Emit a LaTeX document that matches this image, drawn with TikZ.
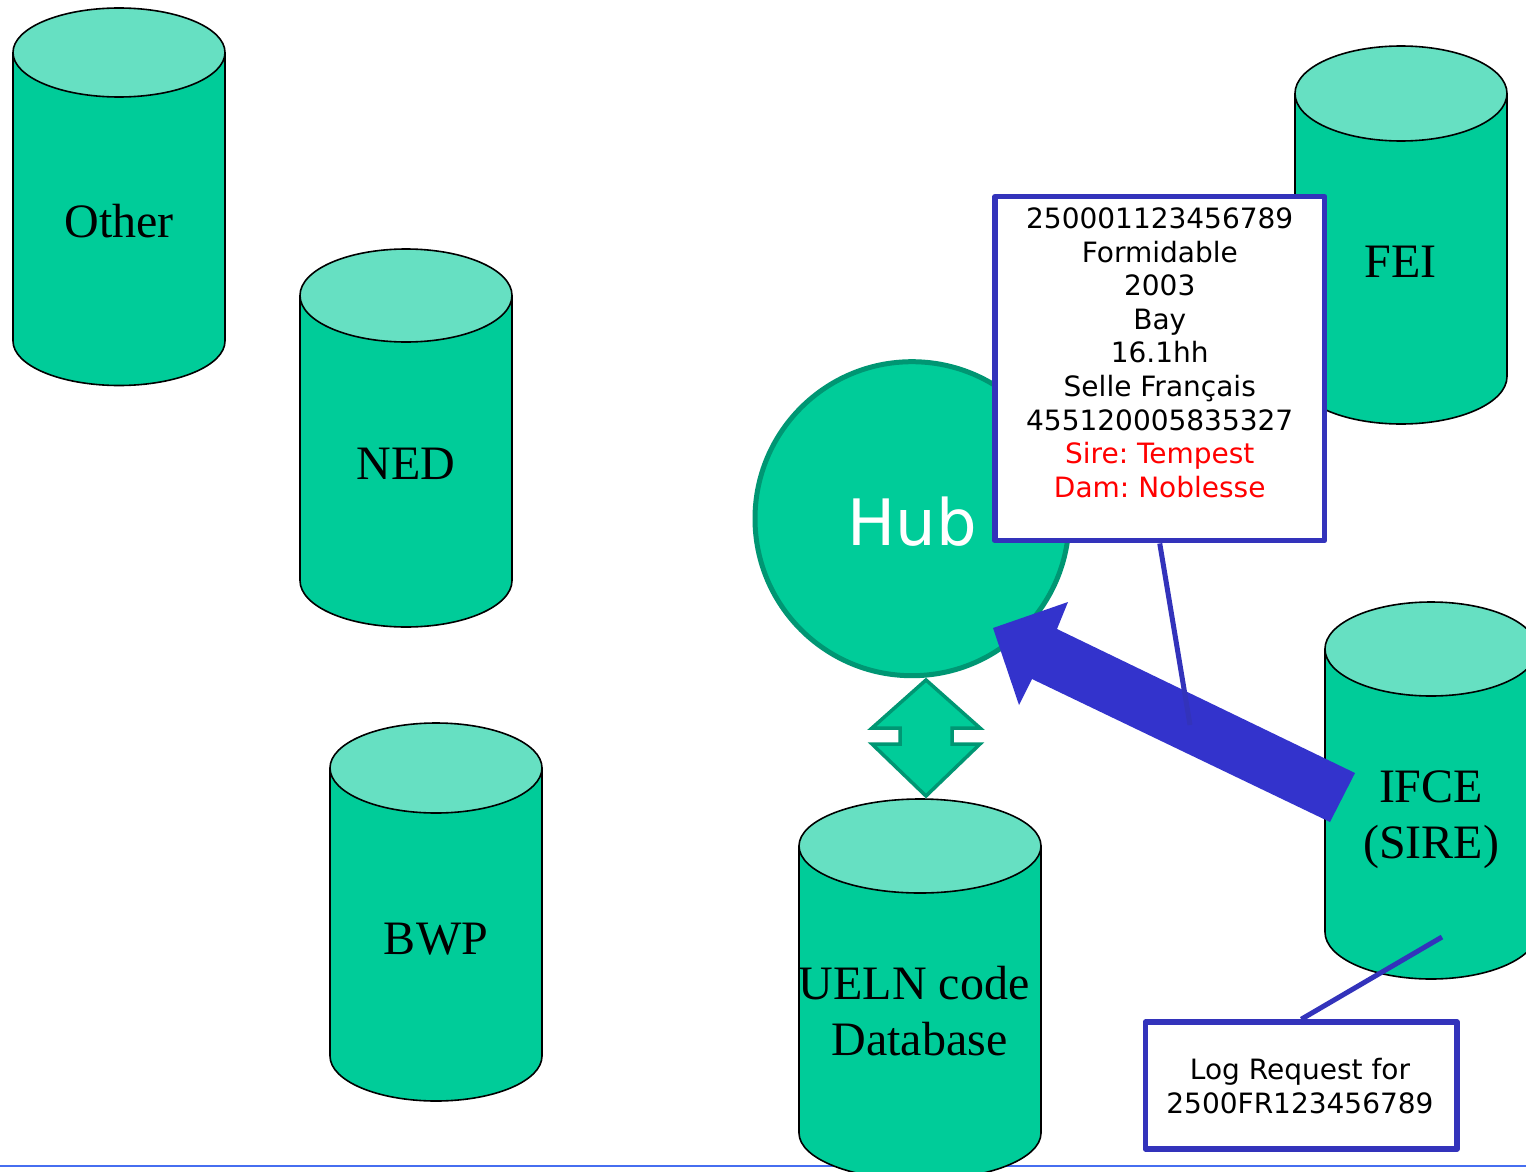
\documentclass[tikz,border=0pt]{standalone}
\usepackage{fontspec}
\setmainfont{Liberation Serif}
\newfontfamily\verd{DejaVu Sans}
\frenchspacing
\definecolor{cylbody}{RGB}{0,204,153}
\definecolor{cyltop}{RGB}{102,224,194}
\definecolor{hubedge}{RGB}{0,150,115}
\definecolor{arrowblue}{RGB}{51,51,204}
\definecolor{boxblue}{RGB}{51,51,187}
\definecolor{rulerblue}{RGB}{70,110,240}
\tikzset{
  cylbodystyle/.style={fill=cylbody, draw=black, line width=1.6pt, line join=round},
  cyltopstyle/.style={fill=cyltop, draw=black, line width=1.6pt},
  cyllabel/.style={font=\fontsize{48}{56}\selectfont, align=center, inner sep=0pt, text=black},
  infobox/.style={draw=boxblue, fill=white, line width=5.5pt, line join=round, inner sep=0pt},
  infotext/.style={font=\verd\fontsize{28}{33.6}\selectfont, align=center, inner sep=0pt, anchor=north},
  pointer/.style={draw=boxblue, line width=5pt},
}
\newcommand{\dbcyl}[8]{%
  \path[cylbodystyle] ({#2-#5},{-#3}) -- ({#2-#5},{-#4}) arc[start angle=180,end angle=360,x radius=#5,y radius=#6] -- ({#2+#5},{-#3}) -- cycle;
  \path[cyltopstyle] (#2,-#3) ellipse[x radius=#5,y radius=#6];
  \node[cyllabel] (#1) at (#7) {#8};
}
\begin{document}
\begin{tikzpicture}[x=1pt,y=1pt]
\useasboundingbox[fill=white] (0,0) rectangle (1526,-1172);
% bottom rule
\coordinate (ruleL) at (0,-1166);
\coordinate (ruleR) at (1526,-1166);
\draw[rulerblue, line width=2.4pt] (ruleL) -- (ruleR);
% cylinders
\dbcyl{other}{119}{52.5}{341}{106}{44.5}{119,-220.6}{Other}
\dbcyl{ned}{406}{295.5}{580.5}{106}{46.5}{406,-464}{NED}
\dbcyl{bwp}{436}{768}{1056}{106}{45}{436,-939}{BWP}
\dbcyl{ueln}{920}{846}{1133}{121}{47}{919.5,-1011}{UELN code\kern11pt\\Database}
\dbcyl{fei}{1401}{93.5}{376.5}{106}{47.5}{1400.5,-262}{FEI}
\dbcyl{ifce}{1431}{649}{932}{106}{47}{1431,-820}{IFCE\\(SIRE)}
% hub
\node[circle, fill=cylbody, draw=hubedge, line width=5pt, minimum size=314pt, inner sep=0pt] (hub) at (912,-518.7) {};
\node[font=\verd\fontsize{64}{70}\selectfont, text=white, inner sep=0pt, anchor=base] (hubtext) at (912,-545) {Hub};
% double arrow hub <-> ueln
\path[fill=cylbody, draw=hubedge, line width=3.5pt, line join=miter]
  (926,-680) -- (980,-728) -- (952,-728) -- (952,-744) -- (980,-744) -- (926,-796)
  -- (872,-744) -- (900,-744) -- (900,-728) -- (872,-728) -- cycle;
% big arrow IFCE -> hub
\coordinate (tailA) at (1355,-773);
\coordinate (tailB) at (1330,-822);
\coordinate (tip) at (993,-628);
\fill[arrowblue] (tailA) -- (1057,-629) -- (1068,-602) -- (tip) -- (1019,-705) -- (1032,-679) -- (tailB) -- cycle;
% callout box
\node[infobox, minimum width=329.5pt, minimum height=344pt] (callout) at (1159.75,-368.7) {};
\node[infotext] (callouttext) at (1159.75,-207.6) {250001123456789\\Formidable\\2003\\Bay\\16.1hh\\Selle Français\\455120005835327\\\textcolor{red}{Sire: Tempest}\\\textcolor{red}{Dam: Noblesse}};
\coordinate (calltip) at (1190,-725);
\draw[pointer] (callout.south) -- (calltip);
% log box
\coordinate (logtip) at (1442,-937);
\node[infobox, minimum width=311.5pt, minimum height=127pt] (logbox) at (1301.25,-1085.5) {};
\draw[pointer] (logbox.north) -- (logtip);
\node[infotext, font=\verd\fontsize{28}{34}\selectfont] (logtext) at (1300,-1057.7) {Log Request for\\2500FR123456789};
\end{tikzpicture}
\end{document}
